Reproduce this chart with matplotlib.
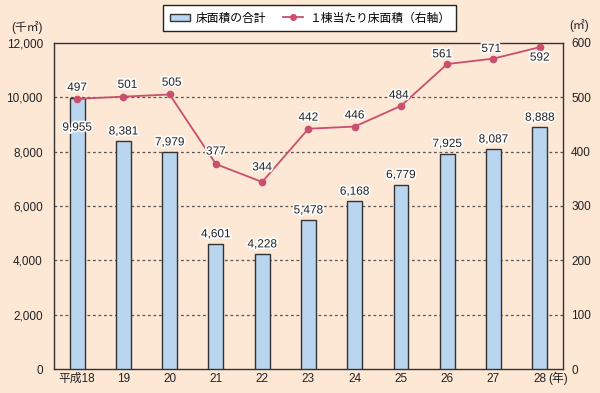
import matplotlib
matplotlib.use("Agg")
import matplotlib.pyplot as plt
import matplotlib.patheffects as pe
from matplotlib.patches import Patch, Rectangle
from matplotlib.lines import Line2D
from matplotlib.legend_handler import HandlerPatch

plt.rcParams['font.family'] = ['Liberation Sans', 'Noto Sans CJK JP', 'DejaVu Sans']

categories = ["平成18", "19", "20", "21", "22", "23", "24", "25", "26", "27", "28"]
floor_total = [9955, 8381, 7979, 4601, 4228, 5478, 6168, 6779, 7925, 8087, 8888]
per_building = [497, 501, 505, 377, 344, 442, 446, 484, 561, 571, 592]
left_ticks = [0, 2000, 4000, 6000, 8000, 10000, 12000]
right_ticks = [0, 100, 200, 300, 400, 500, 600]

bg = '#FDE7D5'
bar_color = '#B9D5F0'
line_color = '#C8506C'
dark = '#333333'

fig = plt.figure(figsize=(6, 3.93), dpi=100, facecolor=bg)
ax = fig.add_axes([0.09, 0.061, 0.848, 0.830])
ax.set_facecolor(bg)
x = list(range(len(categories)))

ax.bar(x, floor_total, width=0.32, color=bar_color, edgecolor=dark, linewidth=1.0, zorder=3)
ax.set_xlim(-0.5, len(categories) - 0.5)
ax.set_ylim(0, 12000)
ax.set_yticks(left_ticks)
ax.set_yticklabels([f"{v:,}" for v in left_ticks])
for v in left_ticks[1:-1]:
    ax.axhline(v, color='#555555', linestyle=(0, (2.2, 2.2)), linewidth=0.9, zorder=1)

ax.set_xticks(x)
ax.set_xticklabels(categories)
ax.tick_params(axis='both', length=0, labelsize=8.5, colors='#222222')
ax.tick_params(axis='y', pad=8)
ax.tick_params(axis='x', pad=3)
for s in ax.spines.values():
    s.set_color(dark)
    s.set_linewidth(1.0)

halo = [pe.withStroke(linewidth=2.5, foreground='white')]
for i, v in enumerate(floor_total):
    dy = 7
    if i == 0:
        dy = -21
    ax.annotate(f"{v:,}", (i, v), xytext=(0, dy), textcoords='offset points',
                ha='center', va='center', fontsize=8.5, color='#222222',
                path_effects=halo, zorder=6)

ax2 = ax.twinx()
ax2.set_ylim(0, 600)
ax2.set_yticks(right_ticks)
ax2.tick_params(axis='y', length=0, labelsize=8.5, colors='#222222', pad=6)
for s in ax2.spines.values():
    s.set_visible(False)
ax2.plot(x, per_building, color=line_color, linewidth=1.3, marker='o', markersize=4.5, zorder=5)

offsets = {0: (0, 8), 1: (3, 8.5), 2: (1.5, 8.5), 3: (0, 9), 4: (0, 10.5), 5: (0, 8), 6: (0, 8),
           7: (-1.5, 7.5), 8: (-3.5, 7), 9: (-1.5, 7), 10: (0, -7.5)}
for i, v in enumerate(per_building):
    ox, oy = offsets[i]
    ax2.annotate(f"{v}", (i, v), xytext=(ox, oy), textcoords='offset points',
                 ha='center', va='center', fontsize=8.5, color='#222222',
                 path_effects=halo, zorder=7)

fig.text(0.0455, 0.931, "(千㎡)", ha='center', va='center', fontsize=8.5, color='#222222')
fig.text(0.966, 0.936, "(㎡)", ha='center', va='center', fontsize=8.5, color='#222222')
fig.text(0.913, 0.038, "(年)", ha='left', va='center', fontsize=8.5, color='#222222')


def small_rect(legend, orig_handle, xdescent, ydescent, width, height, fontsize):
    h = fontsize * 0.6
    return Rectangle((-xdescent, -ydescent + (height - h) / 2), width, h)


handles = [Patch(facecolor=bar_color, edgecolor=dark, linewidth=1.0),
           Line2D([0], [0], color=line_color, linewidth=1.3, marker='o', markersize=4)]
labels = ["床面積の合計", "１棟当たり床面積（右軸）"]
leg = fig.legend(handles, labels, loc='center', bbox_to_anchor=(0.516, 0.954), ncol=2,
                 fontsize=8.5, frameon=True, fancybox=False, edgecolor='#222222',
                 facecolor='white', framealpha=1, handlelength=1.75, handleheight=1.3,
                 columnspacing=1.4, borderpad=0.55, handletextpad=0.45,
                 handler_map={Patch: HandlerPatch(patch_func=small_rect)})
leg.get_frame().set_linewidth(1.0)

fig.savefig("out.png", dpi=100, facecolor=bg)
